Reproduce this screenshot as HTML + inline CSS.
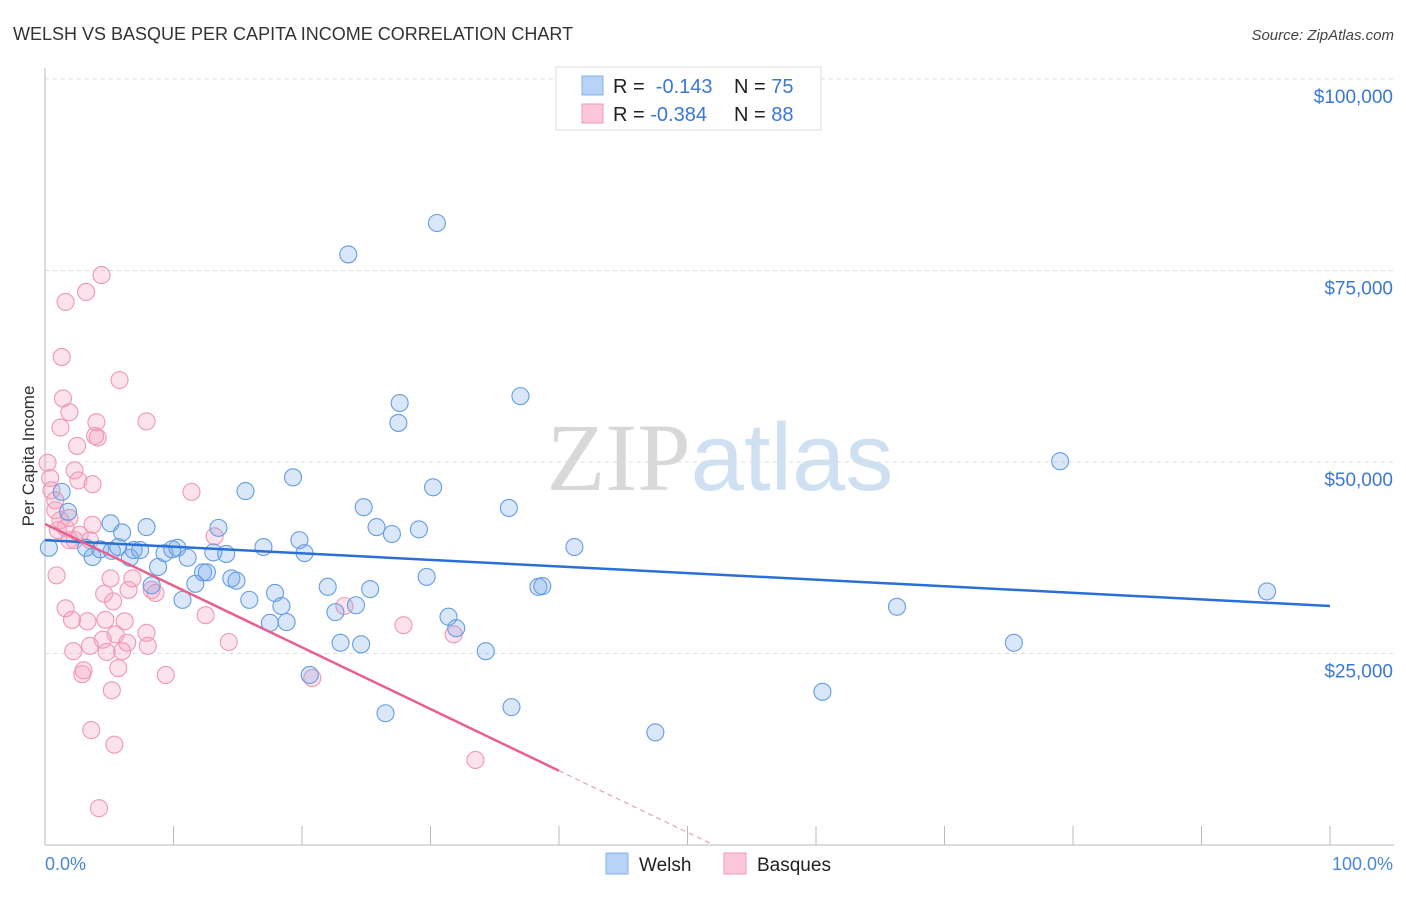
<!DOCTYPE html>
<html><head><meta charset="utf-8"><style>
body{margin:0;background:#fff;font-family:"Liberation Sans",sans-serif;}
svg text{font-family:"Liberation Sans",sans-serif;}
</style></head><body>
<svg id="chart" width="1406" height="892" xmlns="http://www.w3.org/2000/svg">
<text x="13" y="40" font-size="18" fill="#333">WELSH VS BASQUE PER CAPITA INCOME CORRELATION CHART</text>
<text x="1394" y="40" font-size="15" fill="#444" text-anchor="end" font-style="italic">Source: ZipAtlas.com</text>
<text x="720" y="490" font-size="96" text-anchor="middle" fill="#e2e2e2"><tspan font-family="Liberation Serif" fill="#d8d8d8">ZIP</tspan><tspan fill="#cfe0f3">atlas</tspan></text>
<g id="grid"></g>
<g id="axes"></g>
<g id="pts"></g>
<g id="trends"></g>
<text transform="translate(34,456) rotate(-90)" font-size="17" fill="#333" text-anchor="middle">Per Capita Income</text>
<text x="45" y="870" font-size="18" fill="#4a86d8">0.0%</text>
<text x="1393" y="870" font-size="18" fill="#4a86d8" text-anchor="end">100.0%</text>
<g>
<rect x="556" y="67" width="265" height="63" fill="#fff" stroke="#ddd"/>
<rect x="582" y="76" width="21" height="19" fill="#b8d3f5" stroke="#7fb0ea"/>
<rect x="582" y="104" width="21" height="19" fill="#fcc8d8" stroke="#f09ab5"/>
<text x="613" y="93" font-size="20" fill="#222">R = <tspan fill="#3a78d6">&#160;-0.143</tspan></text>
<text x="734" y="93" font-size="20" fill="#222">N = <tspan fill="#3a78d6">75</tspan></text>
<text x="613" y="121" font-size="20" fill="#222">R = <tspan fill="#3a78d6">-0.384</tspan></text>
<text x="734" y="121" font-size="20" fill="#222">N = <tspan fill="#3a78d6">88</tspan></text>
</g>
<g>
<rect x="606" y="853" width="22" height="21" fill="#b8d3f5" stroke="#7fb0ea"/>
<text x="639" y="871" font-size="19" fill="#222">Welsh</text>
<rect x="724" y="853" width="22" height="21" fill="#fcc8d8" stroke="#f09ab5"/>
<text x="757" y="871" font-size="19" fill="#222">Basques</text>
</g>
</svg>
<script>
const welshX=[0.3,1.3,1.8,3.2,3.7,4.3,5.1,5.2,5.7,6.0,6.6,6.9,7.4,7.9,8.3,8.8,9.3,9.9,10.3,10.7,11.1,11.7,12.3,12.6,13.1,13.5,14.1,14.5,14.9,15.6,15.9,17.0,17.5,17.9,18.4,18.8,19.3,19.8,20.2,20.6,22.0,22.6,23.0,23.6,24.2,24.6,24.8,25.3,25.8,26.5,27.0,27.5,27.6,29.1,29.7,30.2,30.5,31.4,32.0,34.3,36.1,36.3,37.0,38.4,38.7,41.2,47.5,60.5,66.3,75.4,79.0,95.1];
const welshY=[38.8,46.1,43.5,38.8,37.6,38.6,42.0,38.4,38.9,40.8,37.5,38.5,38.5,41.5,33.9,36.3,38.1,38.6,38.8,32.0,37.5,34.1,35.6,35.6,38.2,41.4,38.0,34.8,34.5,46.2,32.0,38.9,29.0,32.9,31.2,29.1,48.0,39.8,38.1,22.2,33.7,30.4,26.4,77.1,31.3,26.2,44.1,33.4,41.5,17.2,40.6,55.1,57.7,41.2,35.0,46.7,81.2,29.8,28.3,25.3,44.0,18.0,58.6,33.7,33.8,38.9,14.7,20.0,31.1,26.4,50.1,33.1];
const basqueX=[0.2,0.4,0.5,0.8,0.9,1.0,1.2,1.3,1.4,1.6,1.6,1.9,1.9,2.1,2.2,2.3,2.5,2.6,2.9,3.0,3.2,3.3,3.5,3.7,3.7,3.9,4.0,4.1,4.2,4.4,4.5,4.6,4.7,4.8,5.1,5.2,5.3,5.4,5.5,5.7,5.8,6.0,6.2,6.4,6.5,6.8,7.9,7.9,8.0,8.3,8.6,9.4,11.4,12.5,13.2,14.3,20.8,23.3,27.9,31.8,33.5,2.7,1.9,3.5,3.6,1.2,1.6,0.8,2.3];
const basqueY=[49.9,47.9,46.3,45.0,35.2,41.1,54.5,63.7,58.3,70.9,30.9,56.5,39.8,29.4,25.3,48.9,52.1,47.6,22.3,22.8,72.2,29.2,26.0,41.8,47.1,53.4,55.2,53.2,4.8,74.4,26.8,32.8,29.4,25.2,34.8,20.2,31.8,13.1,27.5,23.1,60.7,25.3,29.2,26.4,33.3,34.8,55.3,27.7,26.0,33.3,32.9,22.2,46.1,30.0,40.3,26.5,21.8,31.2,28.7,27.5,11.1,40.5,42.7,39.8,15.0,42.4,41.4,43.7,39.8];
const yTicks=[25,50,75,100];
const yTickLabels=["$25,000","$50,000","$75,000","$100,000"];
const xTicks=[0,10,20,30,40,50,60,70,80,90,100];
const welshTrend=[39.8,31.2];
const basqueTrend=[41.9,-38.6];
const basqueSolidEnd=40;

const NS="http://www.w3.org/2000/svg";
const X=v=>45+v*12.85;
const Y=v=>845-v*7.66;
function mk(t,a,p){const e=document.createElementNS(NS,t);for(const k in a)e.setAttribute(k,a[k]);p.appendChild(e);return e;}
const grid=document.getElementById('grid'),axes=document.getElementById('axes'),pts=document.getElementById('pts'),tr=document.getElementById('trends');
yTicks.forEach((v,i)=>{
 const l=mk('line',{x1:45,x2:1394,y1:Y(v),y2:Y(v),stroke:'#ddd','stroke-dasharray':'4,4'},grid);
 
 
 const t=mk('text',{x:1393,y:Y(v)+24,'font-size':19,fill:'#3a78d6','text-anchor':'end'},grid);
 t.textContent=yTickLabels[i];
 
 
});
const ax=mk('line',{x1:45,x2:45,y1:68,y2:845,stroke:'#bbb'},axes);


const bx=mk('line',{x1:45,x2:1394,y1:845,y2:845,stroke:'#bbb'},axes);


xTicks.forEach(v=>{
 const t=mk('line',{x1:X(v),x2:X(v),y1:826,y2:845,stroke:'#bbb'},axes);
 
 
});
function dots(xs,ys,fill,stroke,name){xs.forEach((x,i)=>{
 const c=mk('circle',{cx:X(x),cy:Y(ys[i]),r:8.5,fill:fill,stroke:stroke,'stroke-width':1.1},pts);
 
 
});}
dots(basqueX,basqueY,'rgba(244,160,190,0.3)','#ee98b5','basque-point');
dots(welshX,welshY,'rgba(120,170,235,0.28)','#649de2','welsh-point');
const wl=mk('line',{x1:X(0),y1:Y(welshTrend[0]),x2:X(100),y2:Y(welshTrend[1]),stroke:'#2a6fd6','stroke-width':2.5},tr);


const bY=x=>basqueTrend[0]+(basqueTrend[1]-basqueTrend[0])*x/100;
const zeroX=basqueTrend[0]*100/(basqueTrend[0]-basqueTrend[1]);
const bl=mk('line',{x1:X(0),y1:Y(bY(0)),x2:X(basqueSolidEnd),y2:Y(bY(basqueSolidEnd)),stroke:'#e8608e','stroke-width':2.5},tr);


const bd=mk('line',{x1:X(basqueSolidEnd),y1:Y(bY(basqueSolidEnd)),x2:X(zeroX),y2:Y(0),stroke:'#e8a0b8','stroke-width':1.2,'stroke-dasharray':'5,4'},tr);


</script>
</body></html>
